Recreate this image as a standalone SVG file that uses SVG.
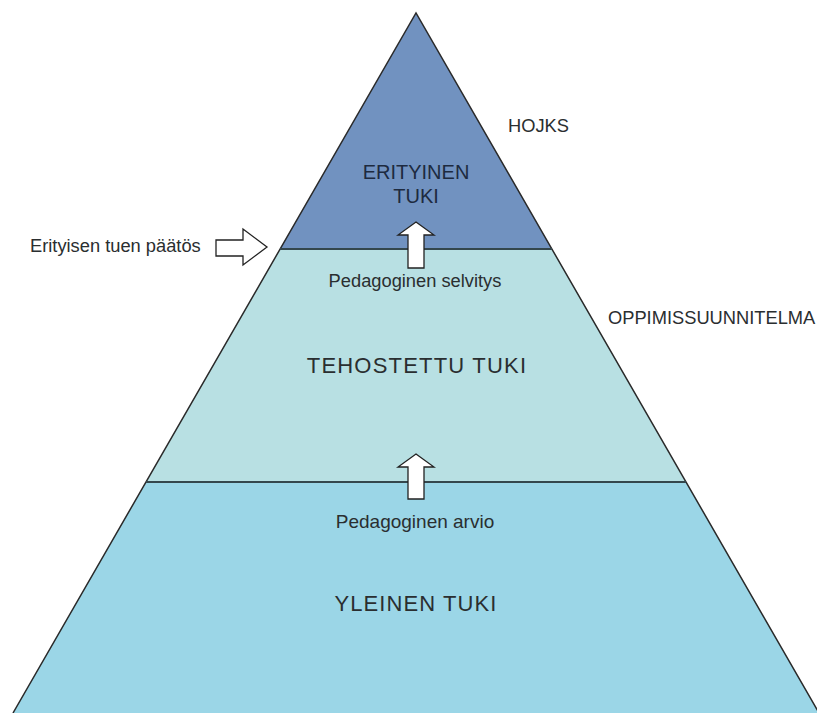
<svg xmlns="http://www.w3.org/2000/svg" width="817" height="713" viewBox="0 0 817 713">
<style>
.t{font-family:"Liberation Sans",Arial,sans-serif;fill:#2a2e30}
.s{font-size:18.3px}
.arrow{fill:#fff;stroke:#222;stroke-width:1.3;stroke-linejoin:miter}
.div{stroke:#34474d;stroke-width:2}
</style>
<rect width="817" height="713" fill="#fff"/>
<g id="level-top">
<polygon points="416,13 552,249 280,249" fill="#7192C0"/>
<text class="t" x="416" y="179" text-anchor="middle" font-size="20" style="fill:#1d2a3f">ERITYINEN</text>
<text class="t" x="416" y="203" text-anchor="middle" font-size="20" style="fill:#1d2a3f">TUKI</text>
</g>
<g id="level-middle">
<polygon points="280,249 552,249 686,482 146,482" fill="#B8E0E3"/>
<text class="t s" x="415" y="287" text-anchor="middle">Pedagoginen selvitys</text>
<text class="t" x="417" y="373" text-anchor="middle" font-size="22" letter-spacing="1.2">TEHOSTETTU TUKI</text>
</g>
<g id="level-bottom">
<polygon points="146,482 686,482 819,713 13,713" fill="#9BD6E7"/>
<text class="t" x="415" y="528" text-anchor="middle" font-size="19">Pedagoginen arvio</text>
<text class="t" x="416" y="611" text-anchor="middle" font-size="22" letter-spacing="1.1">YLEINEN TUKI</text>
</g>
<g id="connectors" fill="none">
<polyline points="13,713 416,13 819,713" stroke="#2a2a2a" stroke-width="1.5"/>
<line class="div" x1="280" y1="249" x2="552" y2="249"/>
<line class="div" x1="146" y1="482" x2="686" y2="482"/>
<path class="arrow" d="M416,222 L434,235 L424,235 L424,268 L408,268 L408,235 L398,235 Z"/>
<path class="arrow" d="M416,454 L434,467 L424,467 L424,499 L408,499 L408,467 L398,467 Z"/>
<path class="arrow" d="M216,240 L243,240 L243,229 L267,247 L243,265 L243,256 L216,256 Z"/>
</g>
<g id="label-paatos">
<text class="t s" x="30" y="252">Erityisen tuen päätös</text>
</g>
<g id="label-hojks">
<text class="t s" x="508" y="132">HOJKS</text>
</g>
<g id="label-oppimis">
<text class="t s" x="608" y="324">OPPIMISSUUNNITELMA</text>
</g>
</svg>
